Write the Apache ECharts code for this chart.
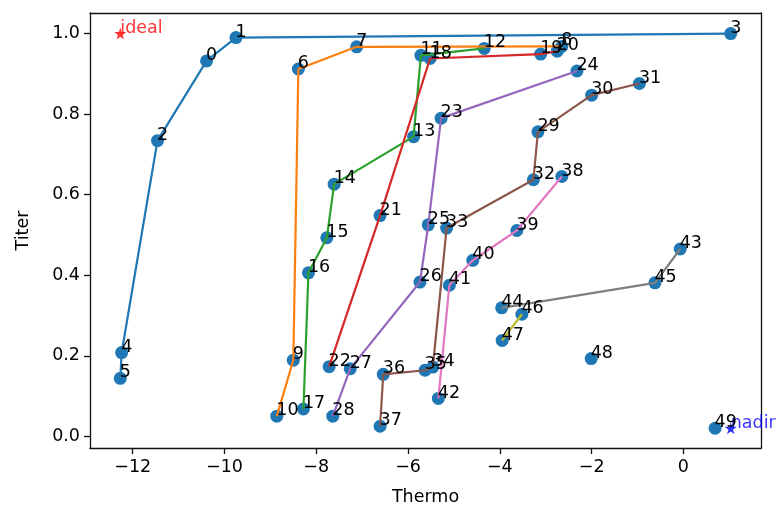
<!DOCTYPE html>
<html>
<head>
<meta charset="utf-8">
<script src="https://cdn.jsdelivr.net/npm/echarts@6/dist/echarts.min.js"></script>
<style>html,body{margin:0;padding:0;background:#fff}#c{width:782px;height:511px}</style>
</head>
<body>
<div id="c"></div>
<script>
// Thermo (x) and Titer (y) of points 0..49
const thermo = [-10.39, -9.75, -11.46, 1.03, -12.24, -12.27, -8.39, -7.12, -2.65, -8.50,
  -8.86, -5.72, -4.34, -5.88, -7.61, -7.77, -8.17, -8.28, -5.52, -3.11,
  -2.75, -6.61, -7.72, -5.28, -2.32, -5.56, -5.74, -7.26, -7.64, -3.17,
  -2.00, -0.96, -3.27, -5.16, -5.46, -5.63, -6.54, -6.61, -2.65, -3.63,
  -4.59, -5.10, -5.34, -0.07, -3.96, -0.62, -3.52, -3.95, -2.01, 0.69];
const titer = [0.932, 0.990, 0.734, 1.000, 0.208, 0.144, 0.912, 0.967, 0.968, 0.189,
  0.050, 0.946, 0.963, 0.744, 0.626, 0.493, 0.406, 0.068, 0.938, 0.949,
  0.956, 0.548, 0.173, 0.790, 0.907, 0.525, 0.383, 0.168, 0.050, 0.756,
  0.847, 0.876, 0.637, 0.517, 0.172, 0.164, 0.154, 0.025, 0.645, 0.511,
  0.437, 0.375, 0.094, 0.465, 0.319, 0.381, 0.303, 0.238, 0.193, 0.020];
// Pareto fronts (point indices, ordered by Thermo)
const fronts = [
  [5, 4, 2, 0, 1, 3],
  [10, 9, 6, 7, 8],
  [17, 16, 15, 14, 13, 11, 12],
  [22, 21, 18, 19, 20],
  [28, 27, 26, 25, 23, 24],
  [37, 36, 35, 34, 33, 32, 29, 30, 31],
  [42, 41, 40, 39, 38],
  [44, 45, 43],
  [47, 46]
];
const frontColors = ['#1f77b4', '#ff7f0e', '#2ca02c', '#d62728', '#9467bd', '#8c564b', '#e377c2', '#7f7f7f', '#bcbd22'];
const ideal = [-12.27, 1.0];
const nadir = [1.03, 0.02];
const xTicks = [-12, -10, -8, -6, -4, -2, 0];
const yTicks = [0.0, 0.2, 0.4, 0.6, 0.8, 1.0];

const starPath = 'path://M50,0 L61.2,34.5 L97.6,34.5 L68.2,55.9 L79.4,90.5 L50,69.1 L20.6,90.5 L31.8,55.9 L2.4,34.5 L38.8,34.5 Z';
const FS = 17.5;
const FONT = 'DejaVu Sans';
const pts = thermo.map((x, i) => [x, titer[i], i]);

const series = [];
series.push({
  type: 'scatter', z: 2, symbolSize: 13, silent: true,
  itemStyle: { color: '#1f77b4', opacity: 1 },
  data: pts
});
fronts.forEach((f, k) => {
  series.push({
    type: 'line', z: 3, symbol: 'none', silent: true,
    lineStyle: { color: frontColors[k], width: 2.2 },
    data: f.map(i => [thermo[i], titer[i]])
  });
});
series.push({
  type: 'scatter', z: 5, symbolSize: 1, silent: true,
  itemStyle: { color: 'rgba(0,0,0,0)' },
  label: {
    show: true, position: [0, 0], align: 'left', verticalAlign: 'bottom', offset: [0, 4],
    color: '#000', fontSize: FS, fontFamily: FONT, opacity: 1,
    formatter: p => String(p.data[2])
  },
  data: pts
});
series.push({
  type: 'scatter', z: 4, symbol: starPath, symbolSize: 12, silent: true,
  itemStyle: { color: '#ff0000' },
  label: { show: true, position: [6, 6], align: 'left', verticalAlign: 'bottom', offset: [0, 4],
    color: '#ff0000', fontSize: FS, fontFamily: FONT, formatter: 'ideal' },
  data: [ideal]
});
series.push({
  type: 'scatter', z: 4, symbol: starPath, symbolSize: 12, silent: true,
  itemStyle: { color: '#0000ff' },
  label: { show: true, position: [6, 6], align: 'left', verticalAlign: 'bottom', offset: [0, 4],
    color: '#0000ff', fontSize: FS, fontFamily: FONT, formatter: 'nadir' },
  data: [nadir]
});

const spine = { color: '#111', width: 1.3 };
const chart = echarts.init(document.getElementById('c'), null, { renderer: 'canvas' });
chart.setOption({
  animation: false,
  backgroundColor: '#fff',
  grid: { left: 90, right: 21, top: 13, bottom: 62 },
  xAxis: [{
    type: 'value', min: -12.93, max: 1.69, position: 'bottom',
    name: 'Thermo', nameLocation: 'middle', nameGap: 40,
    nameTextStyle: { color: '#000', fontSize: FS, fontFamily: FONT },
    axisLine: { show: true, onZero: false, lineStyle: spine },
    splitLine: { show: false },
    axisTick: { show: true, inside: false, length: 6, customValues: xTicks, lineStyle: spine },
    axisLabel: { customValues: xTicks, margin: 10, color: '#000', fontSize: FS, fontFamily: FONT,
      formatter: v => String(Math.round(v)).replace('-', '\u2212') }
  }, {
    type: 'value', min: -12.93, max: 1.69, position: 'top',
    axisLine: { show: true, onZero: false, lineStyle: spine },
    axisTick: { show: false }, axisLabel: { show: false }, splitLine: { show: false }
  }],
  yAxis: [{
    type: 'value', min: -0.029, max: 1.051, position: 'left',
    name: 'Titer', nameLocation: 'middle', nameGap: 58,
    nameTextStyle: { color: '#000', fontSize: FS, fontFamily: FONT },
    axisLine: { show: true, onZero: false, lineStyle: spine },
    splitLine: { show: false },
    axisTick: { show: true, inside: false, length: 6, customValues: yTicks, lineStyle: spine },
    axisLabel: { customValues: yTicks, margin: 10, color: '#000', fontSize: FS, fontFamily: FONT,
      formatter: v => v.toFixed(1) }
  }, {
    type: 'value', min: -0.029, max: 1.051, position: 'right',
    axisLine: { show: true, onZero: false, lineStyle: spine },
    axisTick: { show: false }, axisLabel: { show: false }, splitLine: { show: false }
  }],
  series: series
});
</script>
</body>
</html>
